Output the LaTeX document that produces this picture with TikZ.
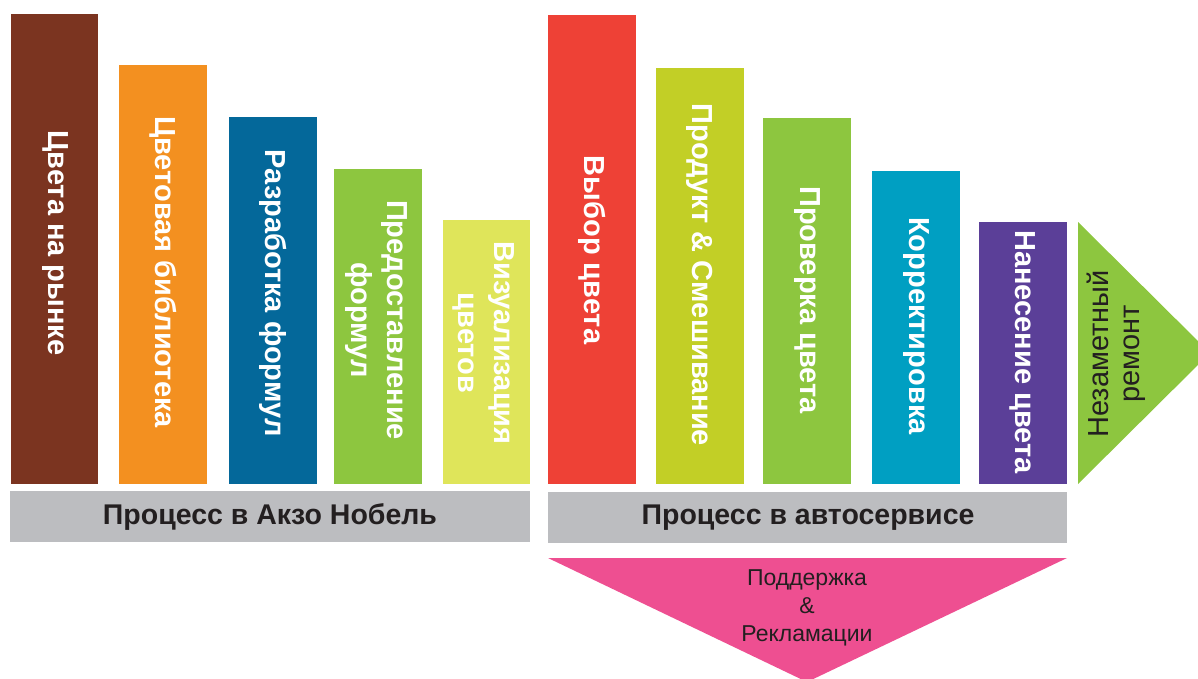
\documentclass[tikz,border=0pt]{standalone}
\usepackage{fontspec}
\setmainfont{Liberation Sans}
\definecolor{barbrown}{HTML}{7B3420}
\definecolor{barorange}{HTML}{F39020}
\definecolor{barblue}{HTML}{04689A}
\definecolor{bargreen}{HTML}{8DC63F}
\definecolor{baryellow}{HTML}{DFE55A}
\definecolor{barred}{HTML}{EE4136}
\definecolor{barlime}{HTML}{C2CF26}
\definecolor{barcyan}{HTML}{009FC2}
\definecolor{barpurple}{HTML}{5B3F98}
\definecolor{basegray}{HTML}{BCBDC0}
\definecolor{supportpink}{HTML}{EE4F91}
\definecolor{textdark}{HTML}{231F20}
\begin{document}
\begin{tikzpicture}[x=1pt, y=-1pt]
  \tikzstyle{bartext}=[white, font=\bfseries\fontsize{29}{36}\selectfont, rotate=-90, align=center, inner sep=0pt]
  \tikzstyle{basetext}=[textdark, font=\bfseries\fontsize{28.5}{34}\selectfont, inner sep=0pt]
  \tikzstyle{notetext}=[textdark, font=\fontsize{23}{28}\selectfont, align=center, inner sep=0pt]
  \clip (0, 0) rectangle (1198, 678);
  % Akzo Nobel side
  \fill [barbrown] (11, 14) rectangle (98, 484);
  \node [bartext] (market) at (55, 243) {Цвета на рынке};
  \fill [barorange] (119, 65) rectangle (207, 484);
  \node [bartext] (library) at (163, 272) {Цветовая библиотека};
  \fill [barblue] (229, 117) rectangle (317, 484);
  \node [bartext] (formulas) at (273, 293) {Разработка формул};
  \fill [bargreen] (334, 169) rectangle (422, 484);
  \node [bartext] (supply) at (376, 320) {Предоставление\\формул};
  \fill [baryellow] (443, 220) rectangle (530, 484);
  \node [bartext] (visual) at (484, 343) {Визуализация\\цветов};
  \fill [basegray] (10, 491) rectangle (530, 542);
  \node [basetext] (akzo) at (270, 517) {Процесс в Акзо Нобель};
  % body shop side
  \fill [barred] (548, 15) rectangle (636, 484);
  \node [bartext] (choice) at (592, 250) {Выбор цвета};
  \fill [barlime] (656, 68) rectangle (744, 484);
  \node [bartext] (mixing) at (700, 275) {Продукт \& Смешивание};
  \fill [bargreen] (763, 118) rectangle (851, 484);
  \node [bartext] (check) at (807, 300) {Проверка цвета};
  \fill [barcyan] (872, 171) rectangle (960, 484);
  \node [bartext] (adjust) at (916, 326) {Корректировка};
  \fill [barpurple] (979, 222) rectangle (1067, 484);
  \node [bartext] (apply) at (1023, 352) {Нанесение цвета};
  \fill [bargreen] (1078, 222) -- (1210, 353) -- (1078, 484) -- cycle;
  \node [notetext, font=\fontsize{29}{31}\selectfont, rotate=90] (repair) at (1116, 354) {Незаметный\\ремонт};
  \fill [basegray] (548, 492) rectangle (1067, 543);
  \node [basetext] (shop) at (808, 518) {Процесс в автосервисе};
  \fill [supportpink] (548, 558) -- (1067, 558) -- (807, 682) -- cycle;
  \node [notetext] (support) at (807, 608) {Поддержка\\\&\\Рекламации};
\end{tikzpicture}
\end{document}
